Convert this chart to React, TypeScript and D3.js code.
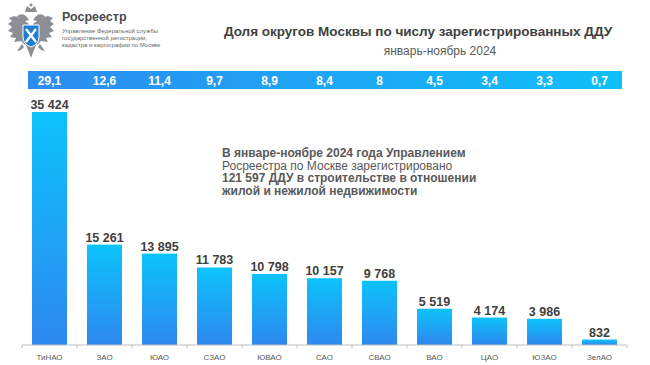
import * as d3 from "d3";

const districts = ["ТиНАО", "ЗАО", "ЮАО", "СЗАО", "ЮВАО", "САО", "СВАО", "ВАО", "ЦАО", "ЮЗАО", "ЗелАО"];
const contracts = [35424, 15261, 13895, 11783, 10798, 10157, 9768, 5519, 4174, 3986, 832];
const shares = ["29,1", "12,6", "11,4", "9,7", "8,9", "8,4", "8", "4,5", "3,4", "3,3", "0,7"];

const noteLines: { text: string; bold: boolean }[] = [
  { text: "В январе-ноябре 2024 года Управлением", bold: true },
  { text: "Росреестра по Москве зарегистрировано", bold: false },
  { text: "121 597 ДДУ в строительстве в отношении", bold: true },
  { text: "жилой и нежилой недвижимости", bold: true },
];

const orgLines = [
  "Управление Федеральной службы",
  "государственной регистрации,",
  "кадастра и картографии по Москве",
];

const W = 650;
const H = 365;
const axisY = 345;
const FONT = "'Liberation Sans', Arial, sans-serif";

// thousands with a plain space: 35 424
const fmt = (v: number) => d3.format(",")(v).replace(/,/g, " ");

function Emblem() {
  const grey = "#8c8f94";
  const wing =
    "M29,24 L22,19 L14,16 L9,18 L12,21 L8,24 L12,27 L8,31 L13,33 L10,37 L16,38 L14,42 L21,41 L25,45 L28,40 Z";
  return (
    <g>
      {/* crown */}
      <path d="M25,12 L27,6 L31,9 L35,6 L37,12 Z" fill={grey} />
      <circle cx={31} cy={5} r={1.6} fill={grey} />
      {/* heads */}
      <path d="M29,20 Q24,12 19,15 L16,17 L20,18 L22,22 Z" fill={grey} />
      <path d="M33,20 Q38,12 43,15 L46,17 L42,18 L40,22 Z" fill={grey} />
      {/* wings */}
      <path d={wing} fill={grey} />
      <path d={wing} fill={grey} transform="translate(62,0) scale(-1,1)" />
      {/* tail and legs */}
      <path d="M26,45 L31,58 L36,45 Z" fill={grey} />
      <path d="M22,44 L17,51 L21,50 L24,47 Z" fill={grey} />
      <path d="M40,44 L45,51 L41,50 L38,47 Z" fill={grey} />
      {/* shield */}
      <path d="M23,25 L39,25 L39,37 Q39,44 31,47 Q23,44 23,37 Z" fill="#1f7ed4" stroke="#ffffff" strokeWidth={1} />
      <path d="M26,29 L36,42 M36,29 L26,42" stroke="#ffffff" strokeWidth={2.4} />
    </g>
  );
}

export default function App() {
  const x = d3
    .scaleBand<string>()
    .domain(districts)
    .range([22, 627])
    .paddingInner(0.364)
    .paddingOuter(0.182);

  const y = d3
    .scaleLinear()
    .domain([0, d3.max(contracts) ?? 0])
    .range([axisY, 112]);

  const step = x.step();
  const ticks = d3.range(districts.length + 1).map((i) => 22 + i * step);

  return (
    <svg width={W} height={H} style={{ position: "absolute", left: 0, top: 0, background: "#ffffff" }}>
      <defs>
        <linearGradient id="barGrad" x1="0" y1="0" x2="0" y2="1">
          <stop offset="0%" stopColor="#0cc3fb" />
          <stop offset="100%" stopColor="#2e88ee" />
        </linearGradient>
        <linearGradient id="bandGrad" x1="0" y1="0" x2="1" y2="0">
          <stop offset="0%" stopColor="#2d8cef" />
          <stop offset="100%" stopColor="#0fbff9" />
        </linearGradient>
      </defs>
      <rect width={W} height={H} fill="#ffffff" />

      <Emblem />
      <text x={62} y={21} fontFamily={FONT} fontSize={12.5} fontWeight="bold" fill="#4a4a4a">
        Росреестр
      </text>
      {orgLines.map((t, i) => (
        <text key={t} x={62} y={33 + i * 6.8} fontFamily={FONT} fontSize={6} fill="#666666">
          {t}
        </text>
      ))}

      <text x={418} y={36} textAnchor="middle" fontFamily={FONT} fontSize={13.5} fontWeight="bold" fill="#404040">
        Доля округов Москвы по числу зарегистрированных ДДУ
      </text>
      <text x={440} y={55} textAnchor="middle" fontFamily={FONT} fontSize={12} fill="#595959">
        январь-ноябрь 2024
      </text>

      {/* share band */}
      <rect x={28} y={71} width={594} height={18} fill="url(#bandGrad)" />
      {districts.map((d, i) => (
        <text
          key={"s" + d}
          x={(x(d) ?? 0) + x.bandwidth() / 2}
          y={84.5}
          textAnchor="middle"
          fontFamily={FONT}
          fontSize={12}
          fontWeight="bold"
          fill="#ffffff"
        >
          {shares[i]}
        </text>
      ))}

      {/* bars */}
      {districts.map((d, i) => (
        <g key={d}>
          <rect
            x={x(d)}
            y={y(contracts[i])}
            width={x.bandwidth()}
            height={axisY - y(contracts[i])}
            fill="url(#barGrad)"
          />
          <text
            x={(x(d) ?? 0) + x.bandwidth() / 2}
            y={y(contracts[i]) - 3}
            textAnchor="middle"
            fontFamily={FONT}
            fontSize={12.5}
            fontWeight="bold"
            fill="#404040"
          >
            {fmt(contracts[i])}
          </text>
          <text
            x={(x(d) ?? 0) + x.bandwidth() / 2}
            y={360}
            textAnchor="middle"
            fontFamily={FONT}
            fontSize={8}
            fill="#595959"
          >
            {d}
          </text>
        </g>
      ))}

      {/* axis */}
      <line x1={22} x2={627} y1={axisY} y2={axisY} stroke="#bfbfbf" strokeWidth={1} />
      {ticks.map((t) => (
        <line key={t} x1={t} x2={t} y1={axisY} y2={axisY + 3} stroke="#bfbfbf" strokeWidth={1} />
      ))}

      {/* note */}
      {noteLines.map((l, i) => (
        <text
          key={l.text}
          x={222}
          y={157 + i * 12.6}
          fontFamily={FONT}
          fontSize={12}
          fontWeight={l.bold ? "bold" : "normal"}
          fill="#595959"
        >
          {l.text}
        </text>
      ))}
    </svg>
  );
}
